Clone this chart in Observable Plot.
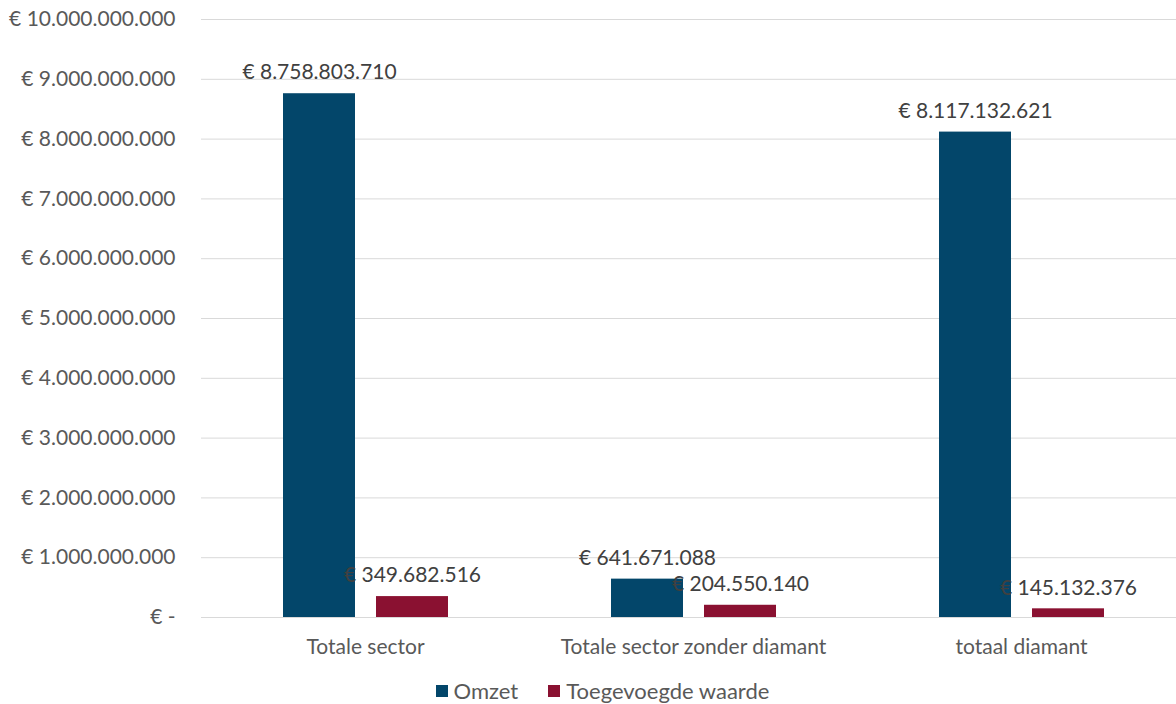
<!DOCTYPE html>
<html>
<head>
<meta charset="utf-8">
<script src="https://cdn.jsdelivr.net/npm/d3@7"></script>
<script src="https://cdn.jsdelivr.net/npm/@observablehq/plot@0.6"></script>
<style>
  html, body { margin: 0; padding: 0; background: #fff; overflow: hidden; }
  #chart { width: 1176px; height: 668px; overflow: hidden; }
  #chart svg { max-width: none !important; display: block; }
  #legend { display: flex; justify-content: center; width: 1176px; margin-top: 6px; padding-left: 59px; box-sizing: border-box; }
  #legend [class$="-swatch"] { margin-right: 30px !important; }
  #legend [class$="-swatch"] svg { margin-right: 6px !important; }
</style>
</head>
<body>
<div id="chart"></div>
<div id="legend"></div>
<script>
const categories = ["Totale sector", "Totale sector zonder diamant", "totaal diamant"];
const series = ["Omzet", "Toegevoegde waarde"];
const omzet = [8758803710, 641671088, 8117132621];
const toegevoegd = [349682516, 204550140, 145132376];
const yTicks = [0, 1e9, 2e9, 3e9, 4e9, 5e9, 6e9, 7e9, 8e9, 9e9, 1e10];
const colors = ["#03466A", "#8A1131"];

const data = [];
categories.forEach((c, i) => {
  data.push({cat: c, series: series[0], value: omzet[i]});
  data.push({cat: c, series: series[1], value: toegevoegd[i]});
});

const fmt = v => v === 0 ? "€ -" : "€ " + d3.format(",")(v).replace(/,/g, ".");

const font = "Lato, 'Open Sans', sans-serif";

const chart = Plot.plot({
  width: 1185,
  height: 668,
  marginLeft: 201,
  marginRight: 0,
  marginTop: 19,
  marginBottom: 51,
  style: {fontFamily: font, fontSize: "21px", color: "#595959", background: "#fff"},
  fx: {domain: categories, padding: 0, label: null, axis: "bottom", tickSize: 0, tickPadding: 22, fontSize: 22},
  x: {domain: series, paddingInner: 0.226, paddingOuter: 0.875, axis: null},
  y: {domain: [0, 1e10], ticks: yTicks, tickFormat: fmt, tickSize: 0, tickPadding: 26, label: null},
  color: {domain: series, range: colors},
  marks: [
    Plot.ruleY(yTicks, {stroke: "#d9d9d9", strokeWidth: 1}),
    Plot.barY(data, {fx: "cat", x: "series", y: "value", fill: "series"}),
    Plot.text(data, {fx: "cat", x: "series", y: "value", text: d => fmt(d.value), dy: -21, fill: "#404040", fontSize: 21})
  ]
});
chart.style.maxWidth = "none";
document.getElementById("chart").appendChild(chart);

const legend = Plot.legend({
  color: {domain: series, range: colors},
  legend: "swatches",
  swatchSize: 12,
  style: {fontFamily: font, fontSize: "22px", color: "#595959"}
});
document.getElementById("legend").appendChild(legend);
</script>
</body>
</html>
